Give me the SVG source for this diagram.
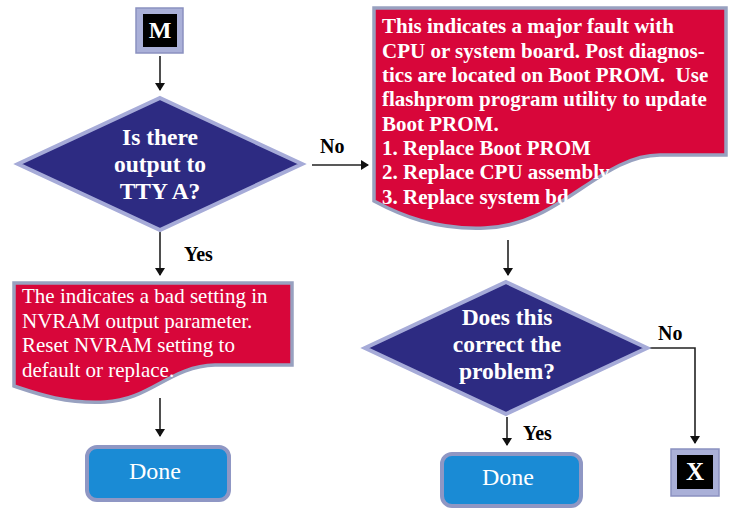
<svg xmlns="http://www.w3.org/2000/svg" width="731" height="509" viewBox="0 0 731 509">
<defs>
<marker id="ah" markerWidth="8" markerHeight="10" refX="7" refY="5" orient="auto" markerUnits="userSpaceOnUse">
<path d="M0,0 L8,5 L0,10 Z" fill="#111"/>
</marker>
<style>
.conn{fill:none;stroke:#222;stroke-width:1.6}
.dia{fill:#2d2b82;stroke:#a6abd8;stroke-width:4;stroke-linejoin:miter}
.doc{fill:#d8063a;stroke:#98a1c0;stroke-width:3.5}
.done{fill:#1a8bd5;stroke:#8f97c4;stroke-width:4}
.term{fill:#aab0d8;stroke:#8b91c0;stroke-width:1.5}
.tb{font-family:"Liberation Serif","Times New Roman",serif;font-weight:bold}
.tr{font-family:"Liberation Serif","Times New Roman",serif}
.w{fill:#fff}
.k{fill:#000}
</style>
</defs>
<rect width="731" height="509" fill="#fff"/>
<g id="connectors">
<path class="conn" d="M160,56 V90" marker-end="url(#ah)"/>
<path class="conn" d="M312,165 H368" marker-end="url(#ah)"/>
<path class="conn" d="M160,232 V275" marker-end="url(#ah)"/>
<path class="conn" d="M160,398 V436" marker-end="url(#ah)"/>
<path class="conn" d="M508,240 V275" marker-end="url(#ah)"/>
<path class="conn" d="M507,417 V445" marker-end="url(#ah)"/>
<path class="conn" d="M648,348 H695 V443" marker-end="url(#ah)"/>
<text class="tb k" x="320" y="153" font-size="20">No</text>
<text class="tb k" x="184" y="261" font-size="20">Yes</text>
<text class="tb k" x="523" y="440" font-size="20">Yes</text>
<text class="tb k" x="658" y="340" font-size="20">No</text>
</g>
<g id="start">
<rect class="term" x="136" y="8" width="47" height="45"/>
<rect x="143" y="14" width="34" height="33" fill="#000"/>
<text class="tb w" x="160" y="38" font-size="24" text-anchor="middle">M</text>
</g>
<g id="decision1">
<path class="dia" d="M160,98 L302,164 L160,230 L18,164 Z"/>
<text class="tb w" font-size="23.5" text-anchor="middle"><tspan x="160" y="145">Is there</tspan><tspan x="160" y="172">output to</tspan><tspan x="160" y="199">TTY A?</tspan></text>
</g>
<g id="fault">
<path class="doc" d="M374,8 H726 V155 H660 C600,155 560,226 485,228 C435,230 400,215 374,201 Z"/>
<text class="tb w" font-size="21"><tspan x="382" y="33">This indicates a major fault with</tspan><tspan x="382" y="57.5">CPU or system board. Post diagnos-</tspan><tspan x="382" y="82">tics are located on Boot PROM.&#160; Use</tspan><tspan x="382" y="106">flashprom program utility to update</tspan><tspan x="382" y="130.5">Boot PROM.</tspan><tspan x="382" y="155">1. Replace Boot PROM</tspan><tspan x="382" y="179">2. Replace CPU assembly</tspan><tspan x="382" y="203.5">3. Replace system bd</tspan></text>
</g>
<g id="nvram">
<path class="doc" d="M14,283 H292 V365 H215 C170,366 150,400 105,402 C65,404 35,393 14,386 Z"/>
<text class="tr w" font-size="21"><tspan x="22" y="303">The indicates a bad setting in</tspan><tspan x="22" y="328">NVRAM output parameter.</tspan><tspan x="22" y="352">Reset NVRAM setting to</tspan><tspan x="22" y="377">default or replace.</tspan></text>
</g>
<g id="done1">
<rect class="done" x="87" y="447" width="142" height="53" rx="10"/>
<text class="tr w" x="155" y="479" font-size="24" text-anchor="middle">Done</text>
</g>
<g id="decision2">
<path class="dia" d="M506,282 L647,348 L506,414 L365,348 Z"/>
<text class="tb w" font-size="23.5" text-anchor="middle"><tspan x="507" y="325">Does this</tspan><tspan x="507" y="352">correct the</tspan><tspan x="507" y="379">problem?</tspan></text>
</g>
<g id="done2">
<rect class="done" x="442" y="454" width="139" height="52" rx="10"/>
<text class="tr w" x="508" y="485" font-size="24" text-anchor="middle">Done</text>
</g>
<g id="exit">
<rect class="term" x="671" y="449" width="48" height="47"/>
<rect x="677" y="455" width="36" height="34" fill="#000"/>
<text class="tb w" x="695" y="480" font-size="25" text-anchor="middle">X</text>
</g>
</svg>
